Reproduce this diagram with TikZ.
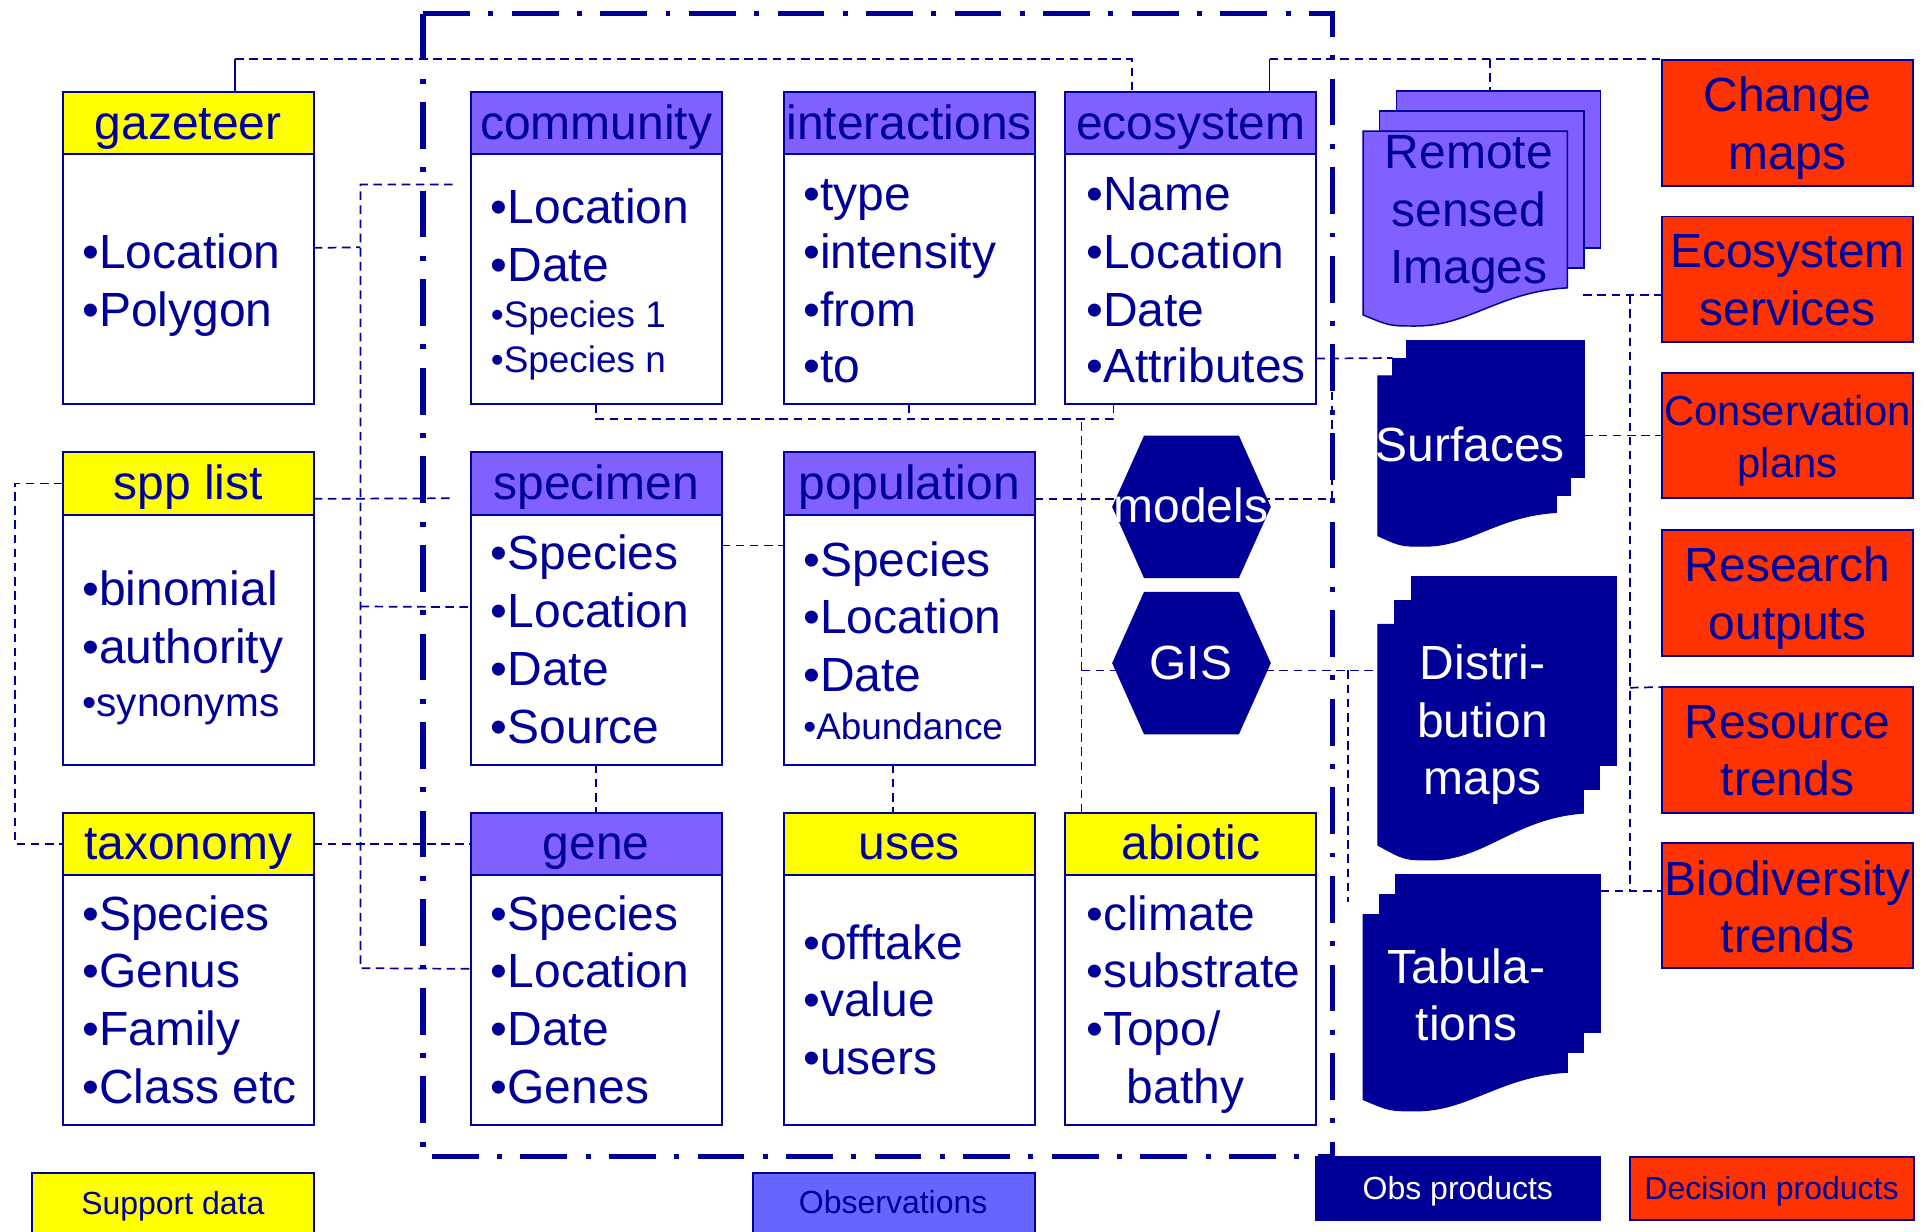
\documentclass[tikz,border=0pt]{standalone}
\usepackage{fontspec}
\setmainfont{Liberation Sans}
\usetikzlibrary{calc,backgrounds}
\definecolor{navy}{RGB}{0,0,153}
\definecolor{obsviolet}{RGB}{128,96,255}
\definecolor{supyellow}{RGB}{255,255,0}
\definecolor{decred}{RGB}{255,51,0}
\definecolor{legblue}{RGB}{102,102,255}

% class box: header node #1 and body node #1b
\newcommand\classbox[5]{%
  \node[hdr, fill=#4] (#1) at (#2,#3) {#5};
  \node[bodybox] (#1b) at (#1.south) {};
}
% stacked document symbol: #1 style, #2 left, #3 top, #4 right,
% #5 right bottom, #6 left bottom, #7 dip, #8 dx, #9 dy
\newcommand\multidoc[9]{%
  \pgfmathsetmacro\mdxm{#2+0.26*(#4-#2)}
  \pgfmathsetmacro\mdpa{\mdxm+0.35*(#4-\mdxm)}
  \pgfmathsetmacro\mdpb{\mdxm+0.55*(#4-\mdxm)}
  \pgfmathsetmacro\mdyb{#5+0.1*(#7-#5)}
  \pgfmathsetmacro\mdpc{\mdxm-0.5*(\mdxm-#2)}
  \path[#1] ({#2+2*#8},{#3-2*#9}) rectangle ({#4+2*#8},{#5-2*#9});
  \path[#1] ({#2+#8},{#3-#9}) rectangle ({#4+#8},{#5-#9});
  \path[#1] (#2,#3) -- (#4,#3) -- (#4,#5)
     .. controls (\mdpb,\mdyb) and (\mdpa,#7) .. (\mdxm,#7)
     .. controls (\mdpc,#7) .. (#2,#6) -- cycle;
}
% hexagon centred at (#1,#2)
\newcommand\hexa[2]{%
  \fill[navy] ({#1-38.5},{#2-58}) -- ({#1+38.5},{#2-58}) -- ({#1+64.5},#2)
    -- ({#1+38.5},{#2+58}) -- ({#1-38.5},{#2+58}) -- ({#1-64.5},#2) -- cycle;
}

\tikzset{
  hdr/.style={draw=navy, line width=1.6pt, minimum width=204pt, minimum height=51pt,
    font=\fontsize{39}{47}\selectfont, text height=31pt, text depth=5pt},
  bodybox/.style={draw=navy, line width=1.6pt, fill=white, minimum width=204pt,
    minimum height=203pt, anchor=north},
  item/.style={anchor=base west, font=\fontsize{39}{47}\selectfont},
  smallitem/.style={anchor=base west, font=\fontsize{30}{36}\selectfont},
  midtext/.style={anchor=base, font=\fontsize{39}{47}\selectfont},
  dec/.style={draw=navy, fill=decred, line width=1.5pt, minimum width=204pt, minimum height=102pt},
  legtext/.style={anchor=base, font=\fontsize{26}{31}\selectfont},
  conn/.style={draw=navy, line width=1.4pt, dash pattern=on 7pt off 4.5pt},
  connsolid/.style={draw=navy, line width=1.4pt},
  outerframe/.style={draw=navy, line width=4.5pt, dash pattern=on 38pt off 15pt on 4pt off 15pt},
  rsdoc/.style={fill=obsviolet, draw=navy, line width=1.2pt},
  obsdoc/.style={fill=navy, draw=navy, line width=0.8pt},
}

\begin{document}
\begin{tikzpicture}[x=1pt, y=-1pt,
  every node/.style={inner sep=0pt, outer sep=0pt, text=navy}]
\useasboundingbox (0,0) rectangle (1568,1001.4);
\clip (0,0) rectangle (1568,1001.4);

% ---------- data classes ----------
\classbox{gaz}{153}{100}{supyellow}{gazeteer}
\classbox{spp}{153}{393}{supyellow}{spp list}
\classbox{tax}{153}{686}{supyellow}{taxonomy}
\classbox{com}{484.5}{100}{obsviolet}{community}
\classbox{spe}{484.5}{393}{obsviolet}{specimen}
\classbox{gen}{484.5}{686}{obsviolet}{gene}
\classbox{int}{739}{100}{obsviolet}{interactions}
\classbox{pop}{739}{393}{obsviolet}{population}
\classbox{use}{739}{686}{supyellow}{uses}
\classbox{eco}{968}{100}{obsviolet}{ecosystem}
\classbox{abi}{968}{686}{supyellow}{abiotic}

% ---------- attributes ----------
\foreach \t/\yy [count=\i] in {Location/218, Polygon/265}
  \node[item] (gazi\i) at (67,\yy) {\textbullet\t};
\node[item] (comi1) at (399,181.5) {\textbullet Location};
\node[item] (comi2) at (399,228.5) {\textbullet Date};
\node[smallitem] (comi3) at (399,266.5) {\textbullet Species 1};
\node[smallitem] (comi4) at (399,302.5) {\textbullet Species n};
\foreach \t/\yy [count=\i] in {type/171, intensity/218, from/265, to/311}
  \node[item] (inti\i) at (653,\yy) {\textbullet\t};
\foreach \t/\yy [count=\i] in {Name/171, Location/218, Date/265, Attributes/311}
  \node[item] (ecoi\i) at (883,\yy) {\textbullet\t};
\node[item] (sppi1) at (67,492) {\textbullet binomial};
\node[item] (sppi2) at (67,539) {\textbullet authority};
\node[anchor=base west, font=\fontsize{33}{40}\selectfont] (sppi3) at (67,582) {\textbullet synonyms};
\foreach \t/\yy [count=\i] in {Species/463, Location/510, Date/557, Source/604}
  \node[item] (spei\i) at (399,\yy) {\textbullet\t};
\foreach \t/\yy [count=\i] in {Species/469, Location/515, Date/562}
  \node[item] (popi\i) at (653,\yy) {\textbullet\t};
\node[smallitem] (popi4) at (653,601) {\textbullet Abundance};
\foreach \t/\yy [count=\i] in {Species/756, Genus/803, Family/850, Class etc/897}
  \node[item] (taxi\i) at (67,\yy) {\textbullet\t};
\foreach \t/\yy [count=\i] in {Species/756, Location/803, Date/850, Genes/897}
  \node[item] (geni\i) at (399,\yy) {\textbullet\t};
\foreach \t/\yy [count=\i] in {offtake/780, value/826, users/873}
  \node[item] (usei\i) at (653,\yy) {\textbullet\t};
\node[item] (abii1) at (883,756) {\textbullet climate};
\node[item] (abii2) at (883,803) {\textbullet substrate};
\node[item] (abii3) at (883,850) {\textbullet Topo/};
\node[item] (abii4) at (916,897) {bathy};

% ---------- tools ----------
\hexa{968.5}{412}
\node[midtext, text=white] (models) at (968,425) {models};
\hexa{968.5}{539}
\node[midtext, text=white] (gis) at (968,552) {GIS};

% ---------- observation products ----------
\multidoc{rsdoc}{1108}{106.5}{1274}{234}{256}{265}{13.5}{16.3}
\node[midtext] (rs1) at (1194,137) {Remote};
\node[midtext] (rs2) at (1194,184) {sensed};
\node[midtext] (rs3) at (1194,230.5) {Images};
\multidoc{obsdoc}{1120}{305.5}{1265}{416.6}{435.5}{444}{11.5}{14.2}
\node[midtext, text=white] (surf) at (1195,375) {Surfaces};
\multidoc{obsdoc}{1120}{507.6}{1287}{661}{687}{699}{13.5}{19.5}
\node[midtext, text=white] (dist1) at (1205,552.5) {Distri-};
\node[midtext, text=white] (dist2) at (1205,599.5) {bution};
\node[midtext, text=white] (dist3) at (1205,645.5) {maps};
\multidoc{obsdoc}{1108}{743.4}{1274}{871.6}{893.8}{903}{13.3}{16.1}
\node[midtext, text=white] (tab1) at (1192,799.5) {Tabula-};
\node[midtext, text=white] (tab2) at (1192,845.5) {tions};

% ---------- decision products ----------
\node[dec] (chg) at (1453,100) {};
\node[midtext] (chg1) at (1453,91) {Change};
\node[midtext] (chg2) at (1453,137.5) {maps};
\node[dec] (ecs) at (1453,227) {};
\node[midtext] (ecs1) at (1453,217.5) {Ecosystem};
\node[midtext] (ecs2) at (1453,264.5) {services};
\node[dec] (cons) at (1453,354) {};
\node[anchor=base, font=\fontsize{34}{41}\selectfont] (cons1) at (1453,346) {Conservation};
\node[anchor=base, font=\fontsize{34}{41}\selectfont] (cons2) at (1453,388) {plans};
\node[dec] (rsch) at (1453,482) {};
\node[midtext] (rsch1) at (1453,473) {Research};
\node[midtext] (rsch2) at (1453,519.5) {outputs};
\node[dec] (res) at (1453,609.5) {};
\node[midtext] (res1) at (1453,600.5) {Resource};
\node[midtext] (res2) at (1453,646.5) {trends};
\node[dec] (bio) at (1453,736) {};
\node[midtext] (bio1) at (1453,728) {Biodiversity};
\node[midtext] (bio2) at (1453,774) {trends};

% ---------- observation system boundary ----------
\draw[outerframe] (344,11) -- (1083,11) -- (1083,940);
\draw[outerframe] (344,11) -- (344,940) -- (1083,940);

% ---------- legend ----------
\node[draw=navy, fill=supyellow, line width=1.5pt, minimum width=229.3pt,
      minimum height=60pt, anchor=north west] (legsup) at (25.7,953.3) {};
\node[legtext] (legsupt) at (140.5,987.6) {Support data};
\node[draw=navy, fill=legblue, line width=1.5pt, minimum width=229.4pt,
      minimum height=60pt, anchor=north west] (legobs) at (612,953.3) {};
\node[legtext] (legobst) at (726,986) {Observations};
\node[draw=navy, fill=navy, line width=1.5pt, minimum width=231pt,
      minimum height=51.2pt, anchor=north west] (legop) at (1070,940.5) {};
\node[legtext, text=white] (legopt) at (1185,975) {Obs products};
\node[draw=navy, fill=decred, line width=1.5pt, minimum width=230.5pt,
      minimum height=51.2pt, anchor=north west] (legdp) at (1325,940.5) {};
\node[legtext] (legdpt) at (1440,975) {Decision products};

% ---------- links ----------
\begin{scope}[on background layer]
  \coordinate (rstop) at (1211,74);
  \coordinate (cfree) at (368,150);
  \coordinate (sfree) at (370,405);
  \coordinate (rsfree) at (1287,240);
  \coordinate (gfree) at (1096,733);
  \coordinate (fr1) at (1083,405.5);
  \coordinate (dl) at (1120,545);
  \draw[connsolid] ($(gaz.north west)+(140,0)$) -- (191,48) coordinate (ta);
  \draw[conn] (ta) -- (920,48) -- ($(eco.north west)+(54,0)$);
  \draw[connsolid] ($(eco.north west)+(166,0)$) -- (1032,48) coordinate (tc);
  \draw[conn] (tc) -- (tc -| chg.west);
  \draw[conn] (rstop |- tc) -- (rstop);
  \draw[conn] ($(gazb.north east)+(0,76)$) -- (293,201);
  \draw[conn] (cfree) -- (293,150) -- (293,787) -- ($(genb.north west)+(0,76)$);
  \draw[conn] (293,493) -- ($(speb.north west)+(0,75)$);
  \draw[conn] (spp.west) -- (12,393) -- (12,686) -- (tax.west);
  \draw[conn] ($(spp.east)+(0,12.5)$) -- (sfree);
  \draw[conn] (tax.east) -- (gen.west);
  \draw[conn] ($(speb.north east)+(0,25)$) -- ($(popb.north west)+(0,25)$);
  \draw[conn] (speb.south) -- (gen.north);
  \draw[conn] ($(popb.south)+(-13,0)$) -- ($(use.north)+(-13,0)$);
  \draw[conn] (comb.south) |- ($(ecob.south west)+(39,12)$) -- ($(ecob.south west)+(39,0)$);
  \draw[conn] (intb.south) -- ++(0,12);
  \draw[conn] ($(abi.north west)+(13,0)$) -- ++(0,-320);
  % population -> models -> boundary, then up to the surfaces
  \draw[conn] ($(pop.east)+(0,12.5)$) -- (fr1) -- (1083,291);
  \draw[conn] ($(ecob.north east)+(0,166)$) -- (1132,291);
  % GIS row
  \draw[conn] (879,545) -- (dl);
  \draw[conn] (1096,545) -- (gfree);
  % decision product links
  \draw[conn] (rsfree) -- ($(ecs.west)+(0,13)$);
  \draw[conn] (1288,354) -- (cons.west);
  \draw[conn] (1325,240) -- (1325,724);
  \draw[conn] (1325,559) -- (res.north west);
  \draw[conn] (1301,724) -- ($(bio.west)+(0,-12)$);
\end{scope}
\end{tikzpicture}
\end{document}
